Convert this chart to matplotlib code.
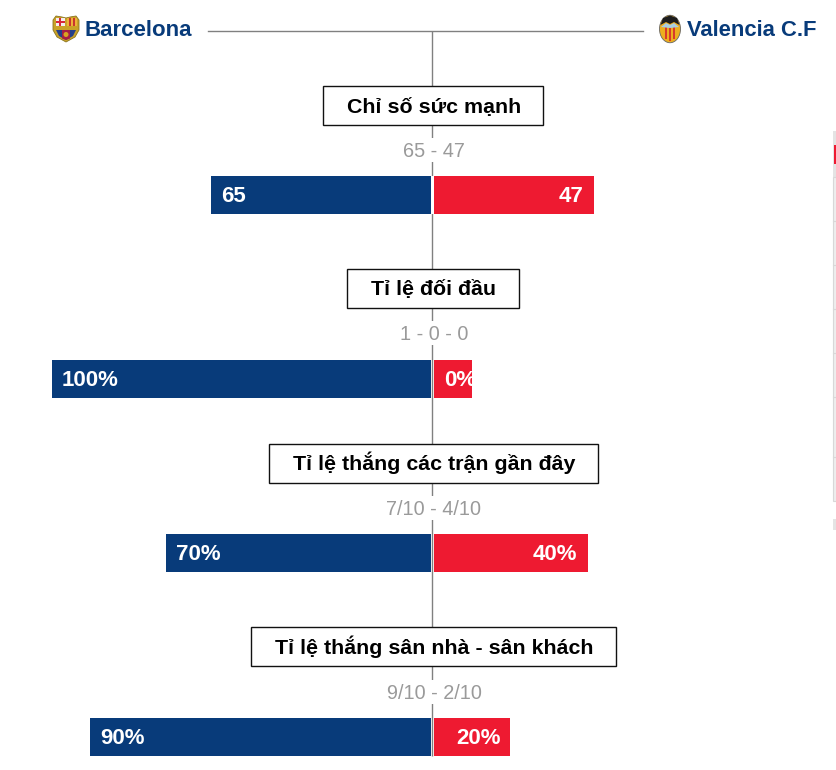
import matplotlib
matplotlib.use("Agg")
import matplotlib.pyplot as plt
from matplotlib.patches import Polygon, Rectangle, Ellipse, Circle

plt.rcParams['font.family'] = ['Liberation Sans', 'DejaVu Sans']

titles = ["Chỉ số sức mạnh", "Tỉ lệ đối đầu", "Tỉ lệ thắng các trận gần đây", "Tỉ lệ thắng sân nhà - sân khách"]
scores = ["65 - 47", "1 - 0 - 0", "7/10 - 4/10", "9/10 - 2/10"]
left_labels = ["65", "100%", "70%", "90%"]
right_labels = ["47", "0%", "40%", "20%"]
# bar lengths as drawn (first row is share of the total, 0% still gets a stub)
left_len = [58, 100, 70, 90]
right_len = [42, 10, 40.4, 20]
team_left = "Barcelona"
team_right = "Valencia C.F"

navy = "#083b7a"
red = "#ee1a31"
W, H = 837, 770
cx = 432.5
unit = 3.79  # px per bar unit
row_y = [195, 379, 553, 737]
box_y = [105.5, 288.5, 463.5, 646.5]
box_w = [220, 172, 329, 365]
score_y = [150, 333, 508, 692]

fig = plt.figure(figsize=(W / 100, H / 100), dpi=100)
# pixel axes for the header, boxes and crests
px = fig.add_axes([0, 0, 1, 1])
px.set_xlim(0, W)
px.set_ylim(H, 0)
px.axis('off')

# bars: x in bar units around the centre line, y still in pixels
ax = fig.add_axes([0, 0, 1, 1], zorder=2)
ax.patch.set_alpha(0)
ax.set_xlim(-cx / unit, (W - cx) / unit)
ax.set_ylim(H, 0)
ax.axis('off')

px.plot([208, 643], [31, 31], color="#808080", lw=1)
px.plot([cx, cx], [31, 756], color="#808080", lw=1, solid_capstyle='butt')
# the first row has no line between its bars
px.add_patch(Rectangle((cx - 1.5, row_y[0] - 19), 3, 38, fc="white", ec="none", zorder=2))

off_l = 1.5 / unit
off_r = 2.0 / unit
lbars = ax.barh(row_y, [-v for v in left_len], height=38, left=-off_l, color=navy)
rbars = ax.barh(row_y, right_len, height=38, left=off_r, color=red)

pad = 10 / unit
for i in range(4):
    lx = -off_l - left_len[i]
    rx = off_r + right_len[i]
    ax.text(lx + pad, row_y[i] + 7, left_labels[i], color="white", fontsize=16, weight='bold', ha='left', va='baseline')
    if right_len[i] <= 10:
        # too short for the label, it starts at the bar edge and gets cut off
        t = ax.text(off_r + pad, row_y[i] + 7, right_labels[i], color="white", fontsize=16, weight='bold', ha='left', va='baseline')
        t.set_clip_path(rbars[i])
    else:
        ax.text(rx - pad, row_y[i] + 7, right_labels[i], color="white", fontsize=16, weight='bold', ha='right', va='baseline')
    px.add_patch(Rectangle((cx + 1 - box_w[i] / 2, box_y[i] - 20), box_w[i], 39, fc="white", ec="#111111", lw=1, zorder=3))
    px.text(cx + 1.5, box_y[i] + 7, titles[i], color="black", fontsize=15.4, weight='bold', ha='center', va='baseline', zorder=4)
    px.add_patch(Rectangle((cx - 75, score_y[i] - 12), 150, 24, fc="white", ec="none", zorder=2))
    px.text(cx + 1.5, score_y[i] + 7, scores[i], color="#9a9a9a", fontsize=14.3, ha='center', va='baseline', zorder=4)

px.text(85, 35.5, team_left, color=navy, fontsize=16, weight='bold', ha='left', va='baseline')
px.text(687, 35.5, team_right, color=navy, fontsize=15.8, weight='bold', ha='left', va='baseline')

# Barcelona crest
px.add_patch(Polygon([(53, 20), (56, 16), (62, 17), (66, 18), (70, 17), (76, 16), (79, 20), (79, 30), (75, 37), (66, 42), (57, 37), (53, 30)], fc="#c9a227", ec="#8a7420", lw=0.6))
px.add_patch(Rectangle((56, 18), 9, 8, fc="#f3eeee", ec="none"))
px.add_patch(Rectangle((59.5, 18), 2, 8, fc="#d8283a", ec="none"))
px.add_patch(Rectangle((56, 21), 9, 2, fc="#d8283a", ec="none"))
px.add_patch(Rectangle((67, 18), 10, 8, fc="#eeb23a", ec="none"))
px.add_patch(Rectangle((69, 18), 1.6, 8, fc="#c8352e", ec="none"))
px.add_patch(Rectangle((73, 18), 1.6, 8, fc="#c8352e", ec="none"))
px.add_patch(Polygon([(56, 30), (76, 30), (73, 36), (66, 40), (59, 36)], fc="#24408a", ec="none"))
px.add_patch(Polygon([(62, 30), (70, 30), (70, 38.5), (66, 40), (62, 38.5)], fc="#a51f46", ec="none"))
px.add_patch(Circle((66, 34.5), 2.5, fc="#d9a520", ec="none"))

# Valencia crest
px.add_patch(Ellipse((670, 29), 21, 27.5, fc="#ecae1f", ec="#666666", lw=0.6))
px.add_patch(Rectangle((665.5, 27), 2, 12, fc="#d8392b", ec="none"))
px.add_patch(Rectangle((669.3, 27), 2, 14, fc="#d8392b", ec="none"))
px.add_patch(Rectangle((673.2, 27), 2, 12, fc="#d8392b", ec="none"))
px.add_patch(Polygon([(660.5, 25), (663, 18), (670, 15.5), (677, 18), (679.5, 25), (674, 22), (670, 24), (666, 22)], fc="#1d1d1d", ec="none"))
px.add_patch(Polygon([(661, 27), (666, 23), (670, 25), (674, 23), (679, 27), (670, 28)], fc="#a8cfe2", ec="none"))

# clipped scrollbar at the right edge of the page
px.add_patch(Rectangle((833, 131), 4, 46, fc="#e4e4e4", ec="none"))
px.add_patch(Rectangle((833, 177), 4, 324, fc="#eeeeee", ec="#d8d8d8", lw=0.8))
for sy in [221, 265, 309, 353, 397, 457]:
    px.plot([833, 837], [sy, sy], color="#d8d8d8", lw=0.8)
px.add_patch(Rectangle((834, 145), 3, 19, fc=red, ec="none"))
px.add_patch(Rectangle((833, 519), 4, 11, fc="#e4e4e4", ec="none"))

fig.savefig("out.png", dpi=100)
